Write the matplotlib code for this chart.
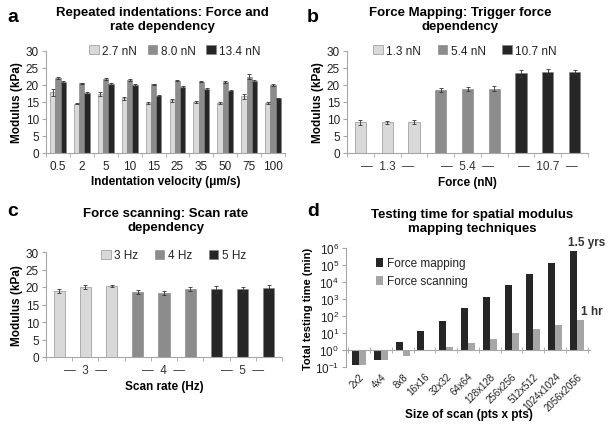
import numpy as np
import matplotlib
matplotlib.use("Agg")
import matplotlib.pyplot as plt
import matplotlib.transforms as mtransforms
from matplotlib.ticker import FixedLocator, NullLocator

plt.rcParams['font.family'] = ['Liberation Sans', 'DejaVu Sans']

# ---- data ----
# a: repeated indentations
velocities = ['0.5', '2', '5', '10', '15', '25', '35', '50', '75', '100']
a_labels = ['2.7 nN', '8.0 nN', '13.4 nN']
a_27 = [17.8, 14.5, 17.4, 16.1, 14.6, 15.5, 15.0, 14.8, 16.7, 14.7]
a_80 = [22.2, 20.5, 21.8, 21.5, 20.2, 21.3, 21.0, 20.9, 22.5, 20.0]
a_134 = [20.8, 17.7, 20.2, 20.0, 16.9, 19.4, 18.8, 18.3, 21.2, 16.1]
a_27_err = [0.9, 0.2, 0.5, 0.5, 0.3, 0.4, 0.3, 0.3, 0.8, 0.3]
a_80_err = [0.3, 0.2, 0.3, 0.3, 0.2, 0.2, 0.2, 0.2, 0.6, 0.2]
a_134_err = [0.3, 0.2, 0.3, 0.2, 0.2, 0.2, 0.2, 0.2, 0.3, 0.2]

# b: force mapping, trigger force
b_groups = ['1.3', '5.4', '10.7']
b_labels = ['1.3 nN', '5.4 nN', '10.7 nN']
b_vals = [[9.0, 9.0, 9.1], [18.4, 18.7, 18.9], [23.4, 23.8, 23.8]]
b_err = [[0.7, 0.4, 0.6], [0.6, 0.6, 0.7], [0.9, 0.8, 0.7]]

# c: force scanning, scan rate
c_groups = ['3', '4', '5']
c_labels = ['3 Hz', '4 Hz', '5 Hz']
c_vals = [[18.8, 20.0, 20.2], [18.6, 18.3, 19.4], [19.3, 19.3, 19.8]]
c_err = [[0.6, 0.5, 0.3], [0.5, 0.5, 0.6], [0.9, 0.7, 0.8]]

# d: testing time
sizes = ['2x2', '4x4', '8x8', '16x16', '32x32', '64x64', '128x128',
         '256x256', '512x512', '1024x1024', '2056x2056']
d_mapping = [0.13, 0.27, 3.0, 13, 50, 280, 1300, 6500, 30000, 140000, 700000]
d_scanning = [0.13, 0.27, 0.45, 0.85, 1.5, 2.7, 4.7, 9.5, 17, 30, 57]

light = '#d9d9d9'
mid = '#8c8c8c'
dark = '#262626'
spine_c = '#a6a6a6'

W, H = 612, 427
fig = plt.figure(figsize=(W / 100, H / 100), dpi=100)


def box(l, t, r, b):
    return [l / W, 1 - b / H, (r - l) / W, (b - t) / H]


def ftext(x, y, s, **kw):
    fig.text(x / W, 1 - y / H, s, **kw)


def style(ax):
    for s in ['top', 'right']:
        ax.spines[s].set_visible(False)
    for s in ['left', 'bottom']:
        ax.spines[s].set_color(spine_c)
        ax.spines[s].set_linewidth(0.8)
    ax.tick_params(axis='y', length=3, color=spine_c, labelsize=8.5, pad=2, labelcolor='#222222')
    ax.tick_params(axis='x', labelsize=8.5, labelcolor='#222222')


ekw = dict(ecolor='#333333', elinewidth=0.6, capsize=1.5, capthick=0.6)
lgkw = dict(frameon=False, fontsize=8.5, handlelength=0.8, handleheight=0.8,
            handletextpad=0.3, labelcolor='#222222', borderpad=0)

# ---- panel a ----
ax = fig.add_axes(box(46, 52, 285, 154))
style(ax)
x = np.arange(len(velocities))
w = 0.22
for i, (vals, err, col) in enumerate(zip([a_27, a_80, a_134], [a_27_err, a_80_err, a_134_err],
                                         [light, mid, dark])):
    ax.bar(x + (i - 1) * w, vals, w, yerr=err, color=col, edgecolor='#7f7f7f',
           linewidth=0.4, label=a_labels[i], error_kw=ekw)
ax.set_xlim(-0.5, len(velocities) - 0.5)
ax.set_ylim(0, 30)
ax.set_yticks(range(0, 31, 5))
ax.set_xticks(x)
ax.set_xticklabels(velocities)
ax.xaxis.set_minor_locator(FixedLocator(np.arange(-0.5, len(velocities), 1)))
ax.tick_params(axis='x', which='major', length=0, pad=5)
ax.tick_params(axis='x', which='minor', length=3, color=spine_c)
ax.set_ylabel('Modulus (kPa)', fontsize=8.5, fontweight='bold', labelpad=2)
ax.set_xlabel('Indentation velocity (μm/s)', fontsize=8.5, fontweight='bold', labelpad=2)
ax.legend(loc='center', bbox_to_anchor=(0.54, 1.0), ncol=3, columnspacing=0.9, **lgkw)

# ---- panel b and c ----
for box_px, groups, labels, vals, errs, xlabel, lg_x, lg_y in [
        ((347, 52, 588, 154), b_groups, b_labels, b_vals, b_err, 'Force (nN)', 0.49, 1.0),
        ((46, 253, 282, 358), c_groups, c_labels, c_vals, c_err, 'Scan rate (Hz)', 0.54, 0.97)]:
    ax = fig.add_axes(box(*box_px))
    style(ax)
    for g, col in enumerate([light, mid, dark]):
        xs = np.arange(3) + 3 * g
        ax.bar(xs, vals[g], 0.42, yerr=errs[g], color=col, edgecolor='#7f7f7f',
               linewidth=0.4, label=labels[g], error_kw=ekw)
    ax.set_xlim(-0.5, 8.5)
    ax.set_ylim(0, 30)
    ax.set_yticks(range(0, 31, 5))
    ax.set_xticks([1, 4, 7])
    ax.set_xticklabels(['—  ' + s + '  —' for s in groups], color='#333333')
    ax.xaxis.set_minor_locator(FixedLocator(np.arange(-0.5, 9, 1)))
    ax.tick_params(axis='x', which='major', length=0, pad=5)
    ax.tick_params(axis='x', which='minor', length=3, color=spine_c)
    ax.set_ylabel('Modulus (kPa)', fontsize=8.5, fontweight='bold', labelpad=2)
    ax.set_xlabel(xlabel, fontsize=8.5, fontweight='bold', labelpad=3)
    ax.legend(loc='center', bbox_to_anchor=(lg_x, lg_y), ncol=3, columnspacing=1.4, **lgkw)

# ---- panel d ----
ax = fig.add_axes(box(346, 249, 590, 368))
style(ax)
xd = np.arange(len(sizes))
wd = 0.32
ax.set_yscale('log')
ax.bar(xd - wd / 2, np.array(d_mapping) - 1, wd, bottom=1, color=dark, label='Force mapping')
ax.bar(xd + wd / 2, np.array(d_scanning) - 1, wd, bottom=1, color='#a6a6a6', label='Force scanning')
ax.set_ylim(0.1, 1e6)
ax.set_xlim(-0.6, len(sizes) - 0.4)
ax.yaxis.set_major_locator(FixedLocator([10.0 ** k for k in range(-1, 7)]))
ax.yaxis.set_minor_locator(NullLocator())
ax.spines['bottom'].set_position(('data', 1))
ax.set_xticks(xd)
ax.set_xticklabels(sizes, rotation=45, ha='right', va='top', rotation_mode='anchor')
shift = mtransforms.ScaledTranslation(6 / 100, 0, fig.dpi_scale_trans)
for lab in ax.get_xticklabels():
    lab.set_transform(lab.get_transform() + shift)
ax.xaxis.set_minor_locator(FixedLocator(np.arange(-0.5, len(sizes), 1)))
ax.tick_params(axis='x', which='major', length=0, pad=15, labelsize=7)
ax.tick_params(axis='x', which='minor', length=4, direction='inout', color=spine_c)
ax.set_ylabel('Total testing time (min)', fontsize=8, fontweight='bold', labelpad=1)
ax.legend(loc='upper left', bbox_to_anchor=(0.08, 1.01), frameon=False, fontsize=8.5,
          handlelength=0.6, handleheight=0.8, handletextpad=0.3, labelspacing=0.5,
          labelcolor='#222222')

ftext(587, 243, '1.5 yrs', fontsize=8.5, fontweight='bold', ha='center', va='center', color='#333333')
ftext(592, 312, '1 hr', fontsize=8.5, fontweight='bold', ha='center', va='center', color='#333333')
ftext(469, 415, 'Size of scan (pts x pts)', fontsize=8.5, fontweight='bold', ha='center', va='center')

# ---- titles and panel letters ----
tkw = dict(fontsize=9.5, fontweight='bold', ha='center', va='center', linespacing=1.15)
ftext(162, 20, 'Repeated indentations: Force and\nrate dependency', **tkw)
ftext(460, 20, 'Force Mapping: Trigger force\ndependency', **tkw)
ftext(166, 221, 'Force scanning: Scan rate\ndependency', **tkw)
ftext(472, 222, 'Testing time for spatial modulus\nmapping techniques', **tkw)

lkw = dict(fontsize=14, fontweight='bold', ha='center', va='center')
ftext(13, 18, 'a', **lkw)
ftext(313, 18, 'b', **lkw)
ftext(13, 212, 'c', **lkw)
ftext(313, 212, 'd', **lkw)

fig.savefig('out.png', dpi=100)
